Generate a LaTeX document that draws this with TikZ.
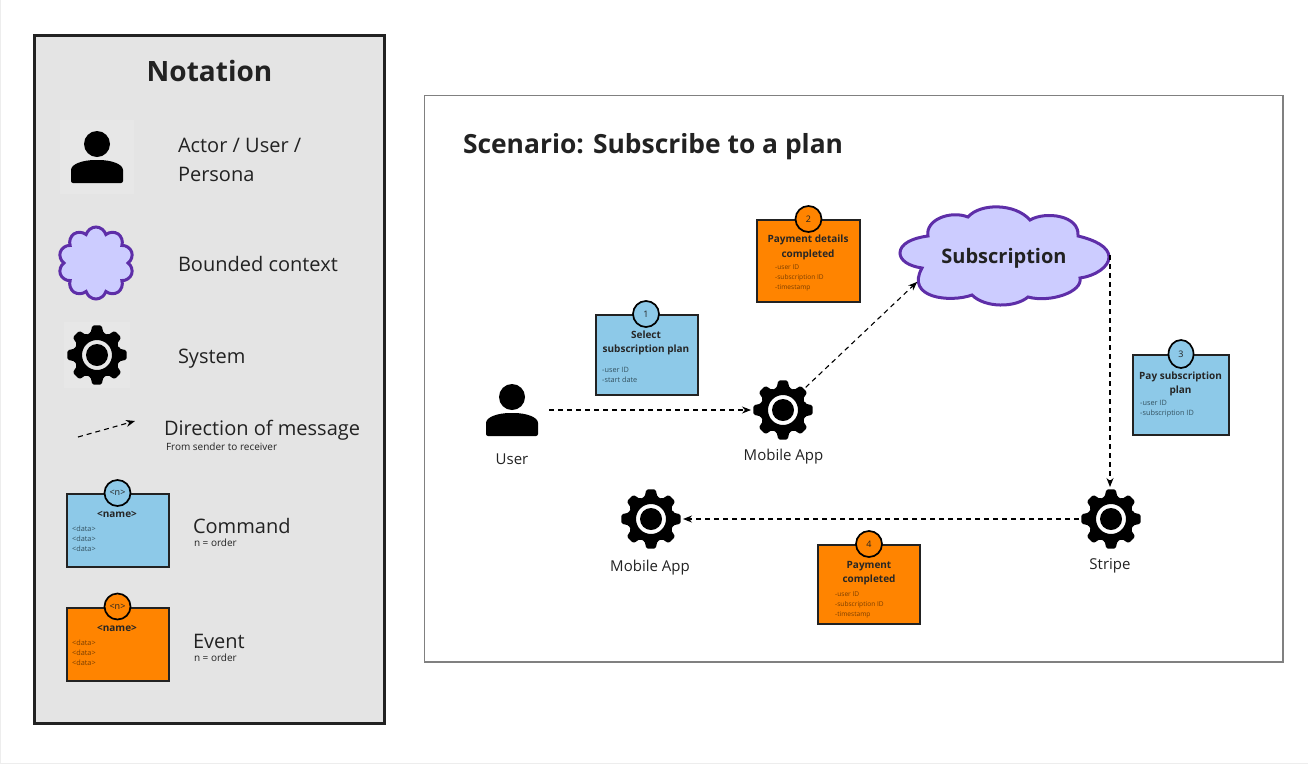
\documentclass[tikz,border=0pt]{standalone}
\usepackage{fontspec}
\setmainfont{Open Sans}
\usetikzlibrary{shapes.symbols,shapes.geometric,arrows.meta}
\definecolor{panelgray}{HTML}{E4E4E4}
\definecolor{iconbg}{HTML}{E7E7E7}
\definecolor{inkdark}{HTML}{222222}
\definecolor{commandblue}{HTML}{8DC9E8}
\definecolor{eventorange}{HTML}{FF8400}
\definecolor{cloudfill}{HTML}{CCCCFF}
\definecolor{cloudline}{HTML}{5E2EA8}
\definecolor{commanddata}{HTML}{33515F}
\definecolor{eventdata}{HTML}{7A3E00}
\tikzset{
	txt/.style={inner sep=0,outer sep=0,text=inkdark,font=\fontsize{#1}{#1}\selectfont},
	legendtxt/.style={txt=20,anchor=west},
	smalltxt/.style={txt=10,anchor=west},
	icontxt/.style={txt=15},
	gearnode/.style={circle,minimum size=64pt,inner sep=0,outer sep=0},
	iconbox/.style={minimum size=#1,inner sep=0,outer sep=0,fill=iconbg},
	contextcloud/.style={shape=cloud,draw=cloudline,fill=cloudfill,line width=3pt,inner sep=0,outer sep=0},
	message/.style={draw=black,line width=1.1pt,dash pattern=on 5pt off 4pt,-{Stealth[length=9pt,width=7pt]}},
	card/.style={draw=inkdark,line width=2pt,fill=#1,inner sep=0,outer sep=0},
	ordernum/.style={circle,draw=black,line width=1.7pt,fill=#1,minimum size=26pt,inner sep=0,text=inkdark,font=\fontsize{9}{9}\selectfont},
	cardtitle/.style={inner sep=0,align=center,text=black!85,font=\fontsize{10}{14.5}\selectfont\bfseries},
	carddata/.style={inner sep=0,anchor=north west,align=left,text=#1,font=\fontsize{6.6}{9.7}\selectfont},
	carddatalarge/.style={carddata=#1,font=\fontsize{7.3}{10}\selectfont},
	gearicon/.pic={
		\fill[rounded corners=1.6pt,even odd rule] (-16:23) \foreach \a in {0,45,...,315} { -- (\a-16:23) -- (\a-9:30) -- (\a+9:30) -- (\a+16:23) } -- cycle (0,0) circle[radius=15];
		\fill (0,0) circle[radius=11];
	},
	personicon/.pic={
		\fill (0,-13) circle[radius=13];
		\fill[rounded corners=2pt] (-26,26) -- (-26,15) .. controls (-26,7) and (-14,3) .. (0,3) .. controls (14,3) and (26,7) .. (26,15) -- (26,26) -- cycle;
	},
}
\begin{document}
\begin{tikzpicture}[x=1pt,y=-1pt]
	\useasboundingbox (0,0) rectangle (1308,764);
	\draw[black!7,line width=1pt] (0.5,-2) -- (0.5,763.5) -- (1310,763.5);
	% notation panel
	\draw[draw=inkdark,fill=panelgray,line width=3pt] (34.5,35.5) rectangle (384,723);
	\node[txt=28,font=\fontsize{28}{28}\selectfont\bfseries] (notationtitle) at (209.5,71) {Notation};
	\node[iconbox=74pt] (actoricon) at (97,157) {};
	\pic at (actoricon) {personicon};
	\node[legendtxt,align=left,font=\fontsize{20}{29}\selectfont] (actortxt) at (178,160) {Actor / User /\\Persona};
	\node[contextcloud,cloud puffs=10,aspect=1,minimum width=75pt,minimum height=72pt] (contexticon) at (96,263) {};
	\node[legendtxt] (contexttxt) at (178,264) {Bounded context};
	\node[iconbox=66pt] (systemicon) at (97,355) {};
	\pic at (systemicon) {gearicon};
	\node[legendtxt] (systemtxt) at (178,359) {System};
	\coordinate (dirfrom) at (78,437);
	\coordinate (dirto) at (135,421);
	\draw[message] (dirfrom) -- (dirto);
	\node[legendtxt] (dirtxt) at (164,430) {Direction of message};
	\node[smalltxt] (dirnote) at (166,447) {From sender to receiver};
	% legend cards
	\draw[card=commandblue] (67,494) rectangle (169,567);
	\node[ordernum=commandblue] (cmdorder) at (117.5,493) {<n>};
	\node[cardtitle] (cmdname) at (117,514) {<name>};
	\node[carddatalarge=commanddata] (cmddata) at (72,525.5) {<data>\\<data>\\<data>};
	\node[legendtxt] (cmdtxt) at (193,526) {Command};
	\node[smalltxt] (cmdnote) at (194,543) {n = order};
	\draw[card=eventorange] (67,608) rectangle (169,681);
	\node[ordernum=eventorange] (evtorder) at (117.5,606.5) {<n>};
	\node[cardtitle] (evtname) at (117,628) {<name>};
	\node[carddatalarge=eventdata] (evtdata) at (72,639.5) {<data>\\<data>\\<data>};
	\node[legendtxt] (evttxt) at (193,641) {Event};
	\node[smalltxt] (evtnote) at (194,658) {n = order};
	% scenario panel
	\draw[draw=black!50,line width=1.5pt] (424.5,95.5) rectangle (1283,662);
	\node[txt=26.4,anchor=west,font=\fontsize{26.4}{27}\selectfont\bfseries] (scenariotitle) at (463,146.5) {Scenario: Subscribe to a plan};
	\node[minimum size=74pt,inner sep=0,outer sep=0] (user) at (512,410) {};
	\pic at (user) {personicon};
	\node[icontxt] (userlbl) at (512,459) {User};
	\node[gearnode] (mobileapp) at (783,410) {};
	\pic at (mobileapp) {gearicon};
	\node[icontxt] (mobileapplbl) at (783.5,457) {Mobile App};
	\node[ellipse,minimum width=210pt,minimum height=98pt,inner sep=0,outer sep=0] (subscription) at (1005,255) {};
	\filldraw[draw=cloudline,fill=cloudfill,line width=3pt] (1078,236) .. controls (1095,240) and (1109,247) .. (1109,257) .. controls (1109,267) and (1095,276) .. (1080,278) .. controls (1083,292) and (1050,303) .. (1028,297) .. controls (1015,308) and (985,308) .. (972,295) .. controls (950,303) and (905,298) .. (922,268) .. controls (908,266) and (900,260) .. (900,253) .. controls (900,244) and (912,238) .. (928,236) .. controls (925,220) and (950,210) .. (968,217) .. controls (980,203) and (1015,203) .. (1030,220) .. controls (1045,211) and (1080,215) .. (1078,236) -- cycle;
	\node[inner sep=0,text=inkdark,font=\fontsize{20}{20}\selectfont\bfseries] (subscriptionlbl) at (1004,258) {Subscription};
	\node[gearnode] (stripe) at (1111,519) {};
	\pic at (stripe) {gearicon};
	\node[icontxt] (stripelbl) at (1110,566) {Stripe};
	\node[gearnode] (mobileappb) at (651,519) {};
	\pic at (mobileappb) {gearicon};
	\node[icontxt] (mobileappblbl) at (650,568) {Mobile App};
	% messages
	\draw[message] (user) -- (mobileapp);
	\draw[message] (mobileapp.45) -- (subscription.197);
	\draw[message] (subscription.east) -- (subscription.east |- stripe.north);
	\draw[message] (stripe) -- (mobileappb);
	% step 1
	\draw[card=commandblue] (596,315) rectangle (698,395);
	\node[ordernum=commandblue] (orderone) at (646,314) {1};
	\node[cardtitle] (titleone) at (646,343) {Select\\subscription plan};
	\node[carddatalarge=commanddata] (dataone) at (602,367.5) {-user ID\\-start date};
	% step 2
	\draw[card=eventorange] (757,220) rectangle (860,302);
	\node[ordernum=eventorange] (ordertwo) at (808.5,219) {2};
	\node[cardtitle] (titletwo) at (808,247.5) {Payment details\\completed};
	\node[carddata=eventdata] (datatwo) at (775,265) {-user ID\\-subscription ID\\-timestamp};
	% step 3
	\draw[card=commandblue] (1133,355) rectangle (1229,435);
	\draw[draw=black,line width=1.7pt,fill=commandblue] (1181,354) ellipse[x radius=12.5,y radius=14];
	\node[cardtitle] (titlethree) at (1180.5,384) {Pay subscription\\plan};
	\node[carddatalarge=commanddata] (datathree) at (1140,400.5) {-user ID\\-subscription ID};
	\node[inner sep=0,text=inkdark,font=\fontsize{9}{9}\selectfont] (orderthree) at (1181,354) {3};
	% step 4
	\draw[card=eventorange] (818,545) rectangle (920,624);
	\node[ordernum=eventorange] (orderfour) at (869,544) {4};
	\node[cardtitle] (titlefour) at (869,573) {Payment\\completed};
	\node[carddata=eventdata] (datafour) at (835,592) {-user ID\\-subscription ID\\-timestamp};
\end{tikzpicture}
\end{document}
